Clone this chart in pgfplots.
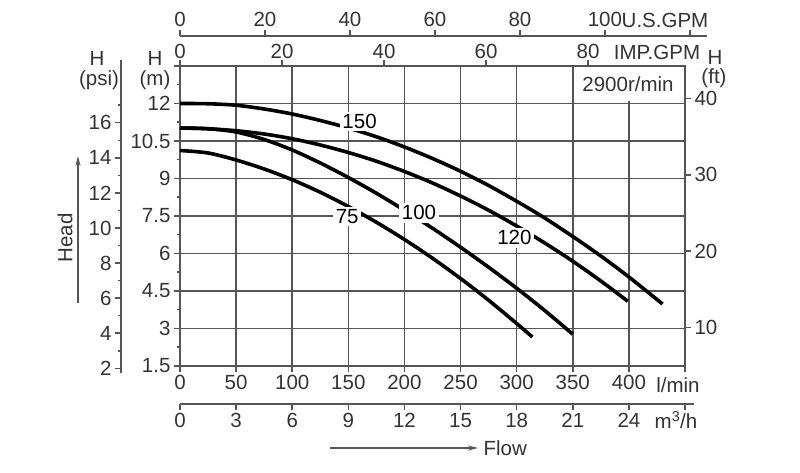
\documentclass[border=0pt]{standalone}
\usepackage{pgfplots}
\pgfplotsset{compat=1.18}
\usepackage{fontspec}
\setmainfont{Liberation Sans}
\usetikzlibrary{arrows.meta}
\definecolor{tg}{HTML}{333333}
\definecolor{lg}{HTML}{555555}
\pgfplotsset{
  base/.style={scale only axis, anchor=south west,
    /pgf/number format/assume math mode=true,
    tick label style={font=\fontsize{20.5}{23}\selectfont, text=tg},
    axis line style={lg, line width=1.5pt},
    tick style={lg, line width=1.5pt},
    major tick length=6pt, minor tick length=3.5pt,
    tick align=outside,
  }
}
\begin{document}
\begin{tikzpicture}[x=1pt,y=1pt, font=\fontsize{20.5}{23}\selectfont]
\path (0,0) rectangle (800,473);
% main axis
\begin{axis}[base, at={(180pt,107pt)}, width=505pt, height=300pt,
  xmin=0, xmax=450, ymin=1.5, ymax=13.5,
  xtick={0,50,100,150,200,250,300,350,400,450},
  xticklabels={0,50,100,150,200,250,300,350,400,{}},
  ytick={1.5,3,4.5,6,7.5,9,10.5,12,13.5},
  yticklabels={1.5,3,4.5,6,7.5,9,10.5,12,{}},
  minor ytick={2.25,3.75,5.25,6.75,8.25,9.75,11.25,12.75},
  xtick pos=bottom, ytick pos=left,
  grid=major, grid style={lg, line width=1.5pt},
  clip=false]
\addplot[black, line width=3.6pt, smooth] coordinates {(0,12.0) (25,11.99) (50,11.93) (75,11.78) (100,11.58) (125,11.32) (150,11.02) (175,10.67) (200,10.26) (225,9.80) (250,9.29) (275,8.72) (300,8.09) (325,7.42) (350,6.68) (375,5.90) (400,5.06) (430,3.98)};
\addplot[black, line width=3.6pt, smooth] coordinates {(0,11.02) (25,10.99) (50,10.91) (75,10.78) (100,10.59) (125,10.34) (150,10.04) (175,9.69) (200,9.28) (225,8.82) (250,8.30) (275,7.73) (300,7.10) (325,6.42) (350,5.69) (375,4.90) (399,4.09)};
\addplot[black, line width=3.6pt, smooth] coordinates {(0,11.02) (25,10.99) (50,10.86) (75,10.56) (100,10.14) (125,9.62) (150,9.04) (175,8.41) (200,7.73) (225,7.01) (250,6.25) (275,5.45) (300,4.61) (325,3.72) (350,2.77)};
\addplot[black, line width=3.6pt, smooth] coordinates {(0,10.12) (25,10.02) (50,9.74) (75,9.38) (100,8.95) (125,8.45) (150,7.88) (175,7.25) (200,6.56) (225,5.81) (250,5.00) (275,4.13) (300,3.20) (314,2.66)};
\node[fill=white, inner sep=2.5pt, text=black] at (axis cs:160,11.28) {150};
\node[fill=white, inner sep=2.5pt, text=black] at (axis cs:213,7.63) {100};
\node[fill=white, inner sep=2.5pt, text=black] at (axis cs:149,7.47) {75};
\node[fill=white, inner sep=2.5pt, text=black] at (axis cs:298,6.63) {120};
\end{axis}
% IMP GPM on top of box
\begin{axis}[base, at={(180pt,107pt)}, width=505pt, height=300pt,
  xmin=0, xmax=98.99, ymin=0, ymax=1,
  axis x line*=top, axis y line=none,
  xtick={0,20,40,60,80}, xticklabel style={yshift=-2pt}]
\end{axis}
% right ft axis
\begin{axis}[base, at={(180pt,107pt)}, width=505pt, height=300pt,
  xmin=0, xmax=1, ymin=4.921, ymax=44.291,
  axis y line*=right, axis x line=none,
  ytick={10,20,30,40}]
\end{axis}
% US GPM axis
\begin{axis}[base, at={(180pt,436pt)}, width=527pt, height=1pt,
  xmin=0, xmax=124.03, ymin=0, ymax=1,
  axis x line*=top, axis y line=none,
  xtick={0,20,40,60,80,100,120}, xticklabels={0,20,40,60,80,100,{}}]
\end{axis}
% m3/h axis
\begin{axis}[base, at={(180pt,69pt)}, width=514pt, height=1pt,
  xmin=0, xmax=27.48, ymin=0, ymax=1,
  axis x line*=bottom, axis y line=none,
  xtick={0,3,6,9,12,15,18,21,24,27}, xticklabels={0,3,6,9,12,15,18,21,24,{}}]
\end{axis}
% psi axis
\begin{axis}[base, at={(121pt,100pt)}, width=1pt, height=313pt,
  xmin=0, xmax=1, ymin=1.734, ymax=19.577,
  axis y line*=left, axis x line=none,
  ytick={2,4,6,8,10,12,14,16}, minor ytick={3,5,7,9,11,13,15,17}]
\end{axis}
% texts
\begin{scope}[text=tg]
\node at (97,415) {H};
\node at (99,393) {(psi)};
\node at (155,415) {H};
\node at (155,393) {(m)};
\node at (715,416) {H};
\node at (714,395) {(ft)};
\node at (665,453) {U.S.GPM};
\node at (657,421) {IMP.GPM};
\node[fill=white, inner xsep=2pt, inner ysep=9pt] at (628,389) {2900r/min};
\node at (678,88) {l/min};
\node at (676,53) {m\textsuperscript{3}/h};
\node[anchor=west] at (480,25) {Flow};
\node[rotate=90] at (65,235) {Head};
\end{scope}
\draw[lg, line width=1.5pt, -{Stealth[length=10pt,width=5pt]}] (330,25) -- (478,25);
\draw[lg, line width=1.5pt, -{Stealth[length=10pt,width=5pt]}] (78,170) -- (78,317);
\end{tikzpicture}
\end{document}
